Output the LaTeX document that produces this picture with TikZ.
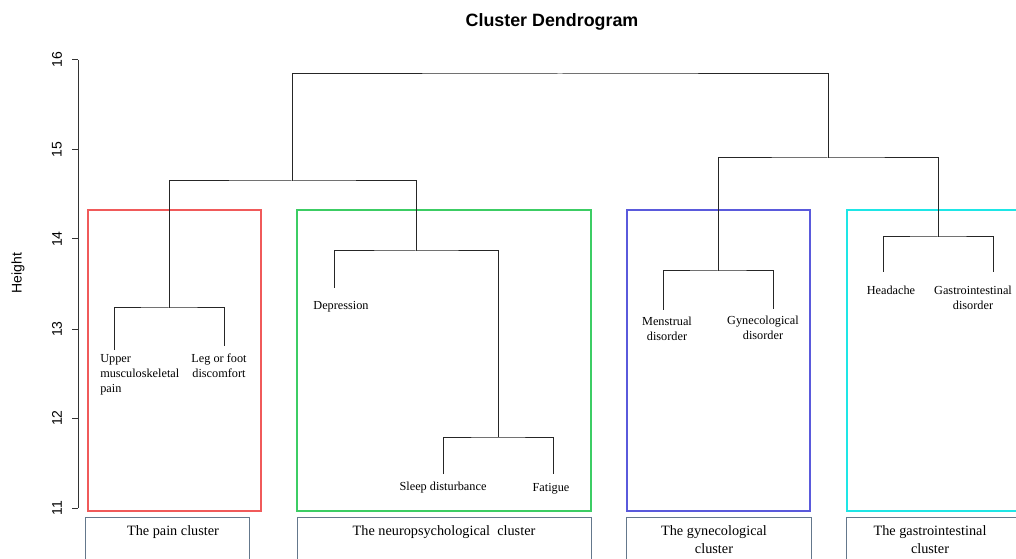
\documentclass[tikz,border=0pt]{standalone}
\usepackage{fontspec}
\setmainfont{Liberation Serif}
\setsansfont{Liberation Sans}
\definecolor{cred}{RGB}{240,90,90}
\definecolor{cgreen}{RGB}{60,205,100}
\definecolor{cblue}{RGB}{90,90,220}
\definecolor{ccyan}{RGB}{30,230,230}
\definecolor{cgray}{RGB}{100,120,140}
\begin{document}
\begin{tikzpicture}[x=0.75pt,y=-0.75pt,
  dend/.style={draw=black!85, line width=0.75pt},
  leaf/.style={inner sep=0pt, font=\fontsize{9.2}{11.3}\selectfont, align=center, anchor=north},
  cbox/.style={draw, line width=1.3pt, inner sep=0pt, anchor=north west},
  bbox/.style={draw=cgray, line width=0.75pt, inner sep=0pt, anchor=north west, minimum height=60*0.75pt},
  btext/.style={inner sep=0pt, font=\fontsize{10.7}{13.5}\selectfont, align=center, anchor=north},
  tick/.style={font=\sffamily\fontsize{10.5}{11}\selectfont, rotate=90, inner sep=0pt}]
\useasboundingbox (0,0) rectangle (1016,559);
\clip (0,0) rectangle (1016,559);
% title
\node[font=\sffamily\bfseries\fontsize{13.4}{15}\selectfont] (title) at (552,22) {Cluster Dendrogram};
% axis
\coordinate (a16) at (78,60);
\coordinate (a11) at (78,508);
\draw[black!80, line width=0.75pt] (a16) -- (a11);
\foreach \v/\y in {16/60,15/150,14/239,13/329,12/418,11/508}{
  \draw[black!80, line width=0.75pt] (72,\y) -- (78,\y);
  \node[tick] (t\v) at (57,\y) {\v};
}
\node[tick] (ylab) at (18,273) {Height};
% cluster boxes
\node[cbox, draw=cred, minimum width=173*0.75pt, minimum height=301*0.75pt] (rPain) at (87,209) {};
\node[cbox, draw=cgreen, minimum width=294*0.75pt, minimum height=301*0.75pt] (rNeuro) at (296,209) {};
\node[cbox, draw=cblue, minimum width=183*0.75pt, minimum height=301*0.75pt] (rGyn) at (626,209) {};
\node[cbox, draw=ccyan, minimum width=180*0.75pt, minimum height=301*0.75pt] (rGI) at (846,209) {};
% bottom label boxes
\node[bbox, minimum width=164*0.75pt] (bPain) at (85,517) {};
\node[bbox, minimum width=294*0.75pt] (bNeuro) at (297,517) {};
\node[bbox, minimum width=185*0.75pt] (bGyn) at (626,517) {};
\node[bbox, minimum width=180*0.75pt] (bGI) at (846,517) {};
\node[btext] (tPain) at (173,525) {The pain cluster};
\node[btext] (tNeuro) at (444,525) {The neuropsychological\ \ cluster};
\node[btext] (tGyn) at (714,525) {The gynecological\\cluster};
\node[btext] (tGI) at (930,525) {The gastrointestinal\\cluster};
% leaf tops
\coordinate (Lup) at (114,350);
\coordinate (Lleg) at (224,346);
\coordinate (Ldep) at (334,288);
\coordinate (Lsleep) at (443,474);
\coordinate (Lfat) at (553,474);
\coordinate (Lmen) at (663,310);
\coordinate (Lgyn) at (773,309);
\coordinate (Lhead) at (883,272);
\coordinate (Lgi) at (993,272);
% merges
\coordinate (mPain) at (169,308);
\coordinate (mSF) at (498,437);
\coordinate (mNeuro) at (416,251);
\coordinate (mLeft) at (292,181);
\coordinate (mGyn) at (718,271);
\coordinate (mGI) at (938,237);
\coordinate (mRight) at (828,158);
\coordinate (mTop) at (560,74);
\draw[dend] (Lup) |- (mPain) -| (Lleg);
\draw[dend] (Lsleep) |- (mSF) -| (Lfat);
\draw[dend] (Ldep) |- (mNeuro) -| (mSF);
\draw[dend] (mPain) |- (mLeft) -| (mNeuro);
\draw[dend] (Lmen) |- (mGyn) -| (Lgyn);
\draw[dend] (Lhead) |- (mGI) -| (Lgi);
\draw[dend] (mGyn) |- (mRight) -| (mGI);
\draw[dend] (mLeft) |- (mTop) -| (mRight);
% leaf labels
\node[leaf, anchor=north west, align=left] (nUp) at (100,354) {Upper\\musculoskeletal\\pain};
\node[leaf] (nLeg) at (219,354) {Leg or foot\\discomfort};
\node[leaf] (nDep) at (341,301) {Depression};
\node[leaf] (nSleep) at (443,482) {Sleep disturbance};
\node[leaf] (nFat) at (551,483) {Fatigue};
\node[leaf] (nMen) at (667,317) {Menstrual\\disorder};
\node[leaf] (nGyn) at (763,316) {Gynecological\\disorder};
\node[leaf] (nHead) at (891,286) {Headache};
\node[leaf] (nGI) at (973,286) {Gastrointestinal\\disorder};
\end{tikzpicture}
\end{document}
